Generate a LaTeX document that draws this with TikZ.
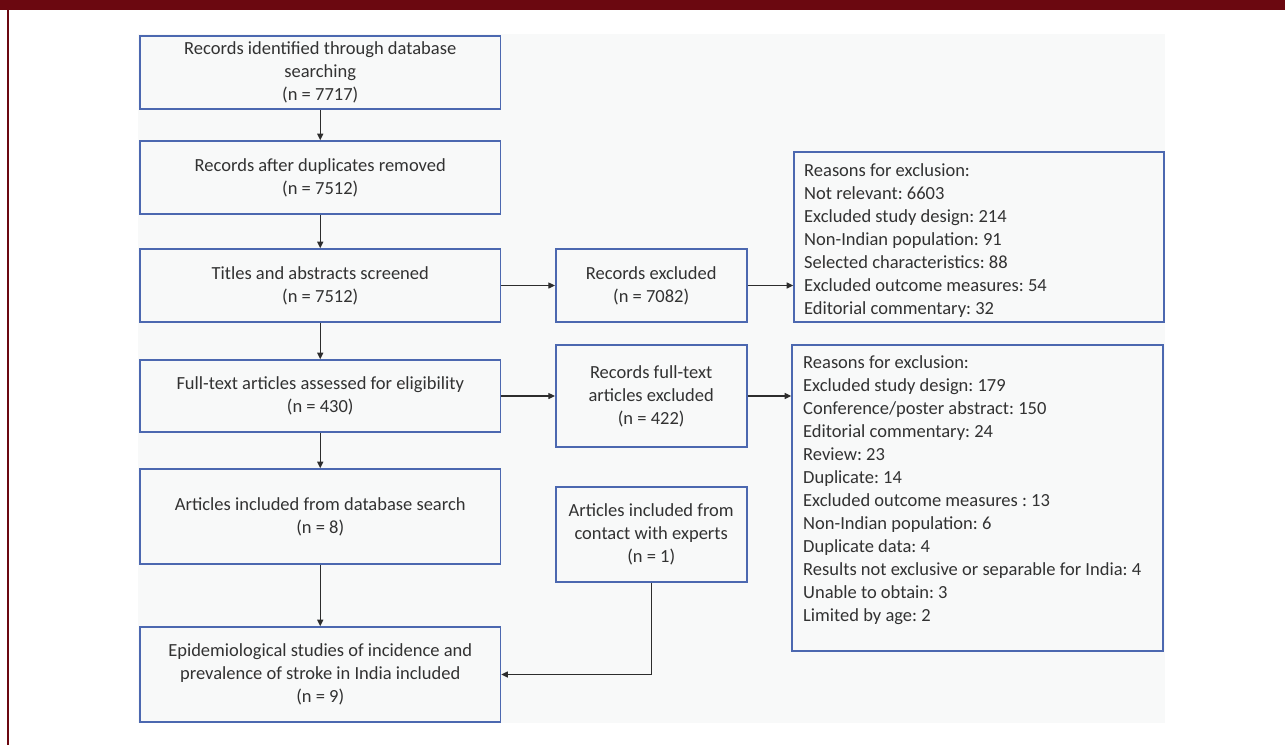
\documentclass[tikz,border=0pt]{standalone}
\usepackage{fontspec}
\setmainfont{Carlito}
\usetikzlibrary{arrows.meta}
\frenchspacing
\definecolor{barred}{RGB}{107,8,16}
\definecolor{panelbg}{RGB}{248,249,249}
\definecolor{boxblue}{RGB}{76,104,176}
\definecolor{txtgray}{RGB}{50,50,50}
\definecolor{arrgray}{RGB}{45,45,45}
\tikzset{
  flowbox/.style={draw=boxblue, line width=1.6pt, fill=none, inner sep=0pt,
    align=center, text=txtgray, font=\fontsize{18.5}{23}\selectfont\frenchspacing},
  listtext/.style={anchor=north west, inner sep=0pt, align=left, text=txtgray,
    font=\fontsize{18.5}{23}\selectfont\frenchspacing},
  conn/.style={draw=arrgray, line width=1.1pt, -{Triangle[length=6.5pt,width=6pt]}},
}
\begin{document}
\begin{tikzpicture}[x=1pt,y=-1pt]
\useasboundingbox (0,0) rectangle (1285,745);
\fill[white] (0,0) rectangle (1285,745);
\fill[barred] (0,0) rectangle (1285,10);
\fill[barred] (7,10) rectangle (8.6,745);
\fill[panelbg] (138,34) rectangle (1165,723);

\node[flowbox, minimum width=360.5pt, minimum height=73pt] (b1) at (320.25,72.5)
  {Records identified through database\\searching\\(n = 7717)};
\node[flowbox, minimum width=360.5pt, minimum height=73pt] (b2) at (320.25,177.5)
  {Records after duplicates removed\\(n = 7512)};
\node[flowbox, minimum width=360.5pt, minimum height=73pt] (b3) at (320.25,285.5)
  {Titles and abstracts screened\\(n = 7512)};
\node[flowbox, minimum width=360.5pt, minimum height=72pt] (b4) at (320.25,396)
  {Full-text articles assessed for eligibility\\(n = 430)};
\node[flowbox, minimum width=360.5pt, minimum height=95pt] (b5) at (320.25,516.5)
  {Articles included from database search\\(n = 8)};
\node[flowbox, minimum width=360.5pt, minimum height=95pt] (b6) at (320.25,674.5)
  {Epidemiological studies of incidence and\\prevalence of stroke in India included\\(n = 9)};

\node[flowbox, minimum width=191pt, minimum height=73pt] (e1) at (651.2,285.5)
  {Records excluded\\(n = 7082)};
\node[flowbox, minimum width=191pt, minimum height=102pt] (e2) at (651.2,396)
  {Records full-text\\articles excluded\\(n = 422)};
\node[flowbox, minimum width=191pt, minimum height=95pt] (c1) at (651.2,534.5)
  {Articles included from\\contact with experts\\(n = 1)};

\node[flowbox, minimum width=370pt, minimum height=170pt] (r1) at (979,237) {};
\node[listtext] (r1t) at (804,160.4)
  {\strut Reasons for exclusion:\\Not relevant: 6603\\Excluded study design: 214\\Non-Indian population: 91\\Selected characteristics: 88\\Excluded outcome measures: 54\\Editorial commentary: 32};
\node[flowbox, minimum width=371pt, minimum height=306pt] (r2) at (977.5,498) {};
\node[listtext] (r2t) at (803,352.2)
  {\strut Reasons for exclusion:\\Excluded study design: 179\\Conference/poster abstract: 150\\Editorial commentary: 24\\Review: 23\\Duplicate: 14\\Excluded outcome measures : 13\\Non-Indian population: 6\\Duplicate data: 4\\Results not exclusive or separable for India: 4\\Unable to obtain: 3\\Limited by age: 2};

\draw[conn] (b1.south) -- (b2.north);
\draw[conn] (b2.south) -- (b3.north);
\draw[conn] (b3.south) -- (b4.north);
\draw[conn] (b4.south) -- (b5.north);
\draw[conn] (b5.south) -- (b6.north);
\draw[conn] (b3.east) -- (e1.west);
\draw[conn] (b4.east) -- (e2.west);
\draw[conn] (e1.east) -- (e1.east -| r1.west);
\draw[conn] (e2.east) -- (e2.east -| r2.west);
\draw[conn] (c1.south) |- (b6.east);
\end{tikzpicture}
\end{document}
